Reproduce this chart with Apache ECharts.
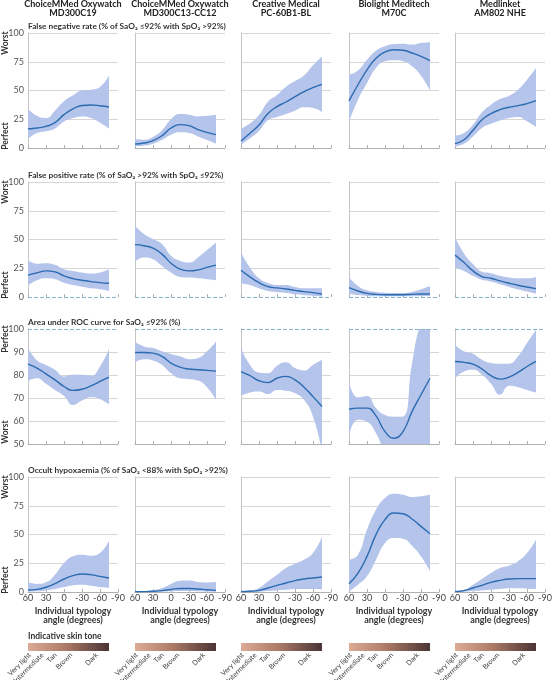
<!DOCTYPE html>
<html>
<head>
<meta charset="utf-8">
<script src="https://cdn.jsdelivr.net/npm/echarts@6/dist/echarts.min.js"></script>
<style>
html,body{margin:0;padding:0;background:#fff}
#chart{width:552px;height:680px}
</style>
</head>
<body>
<div id="chart"></div>
<script>
// x categories (individual typology angle, degrees); curves stop at -75
const angles = [60, 45, 30, 15, 0, -15, -30, -45, -60, -75, -90];

const devices = [
  'ChoiceMMed Oxywatch\nMD300C19',
  'ChoiceMMed Oxywatch\nMD300C13-CC12',
  'Creative Medical\nPC-60B1-BL',
  'Biolight Meditech\nM70C',
  'Medlinket\nAM802 NHE'
];

const metricTitles = [
  'False negative rate (% of SaO₂ ≤92% with SpO₂ >92%)',
  'False positive rate (% of SaO₂ >92% with SpO₂ ≤92%)',
  'Area under ROC curve for SaO₂ ≤92% (%)',
  'Occult hypoxaemia (% of SaO₂ <88% with SpO₂ >92%)'
];

const toneNames = ['Very light', 'Light', 'Intermediate', 'Tan', 'Brown', 'Dark'];
const toneAngles = [57, 49, 36, 14, -12, -55];
const toneRange = [60, -75];

// false negative rate, one list per device
const fnrMid = [
  [16.5, 17.4, 18.8, 22, 29, 34, 37, 37.4, 36.8, 35.7],
  [3.5, 4.3, 6.4, 10.7, 17.4, 20.3, 19.4, 16, 13.6, 11.6],
  [6.1, 12.8, 20, 30, 36, 40, 44.6, 49, 52.5, 55.4],
  [41, 55, 68, 78, 83.5, 85.5, 85, 82.6, 79.7, 76],
  [3.8, 7.2, 15.4, 24.6, 29.9, 33.3, 35.4, 36.8, 38.6, 41.2]
];
const fnrLow = [
  [8, 13, 14.5, 17, 23, 26, 27.5, 26, 22, 17],
  [1.5, 2, 3.8, 7.2, 11.6, 13.6, 13, 10, 7, 3.8],
  [2.6, 8.4, 14.8, 24.3, 27, 29.6, 32.5, 35.4, 34.8, 31.3],
  [23, 42, 56.5, 69.6, 75.4, 76.2, 75.4, 71, 62.9, 50],
  [1.4, 3.8, 10, 17.4, 21, 24, 26, 27, 23.2, 18.3]
];
const fnrHigh = [
  [34, 28, 26, 32.5, 40.6, 45.8, 50, 50.7, 53, 63],
  [7.8, 7.2, 9.6, 15.4, 25, 29.5, 29, 27.5, 28, 29],
  [17, 21.4, 28.7, 40.3, 46, 53.3, 58.3, 63, 72, 79.4],
  [63.8, 67.5, 76.8, 84.6, 88.4, 90.4, 90.7, 89.9, 91.3, 92],
  [10.7, 13, 20.3, 31, 37.7, 42.6, 45.5, 50.7, 59.4, 69.6]
];

// false positive rate
const fprMid = [
  [19, 21, 22.7, 21.9, 18.4, 16, 14.6, 13.4, 12.5, 11.9],
  [45.5, 44.6, 42.6, 37.3, 29.4, 24.2, 22.7, 23.6, 25.7, 27.7],
  [23.3, 17.5, 12.5, 9, 7.9, 7, 5.8, 4.7, 3.8, 2.6],
  [8.2, 5.2, 3.2, 2.3, 2, 2, 2, 2.3, 2.6, 2.6],
  [36.4, 30, 22.7, 17.8, 16.3, 14, 12, 10.2, 8.7, 7.3]
];
const fprLow = [
  [10.2, 14.6, 16.3, 15.5, 12.5, 10.5, 9, 7.6, 6.7, 5.2],
  [31, 34.4, 32.9, 27, 21.3, 17.5, 16.9, 16.3, 15.5, 14.6],
  [11.7, 10.5, 7.6, 5.2, 4.1, 3.5, 2.3, 1.5, 0.9, 0.3],
  [2.9, 1.7, 0.9, 0.6, 0.6, 0.6, 0.6, 0.6, 0.9, 0.9],
  [25.7, 22.7, 18.4, 14.9, 13.4, 11, 8.7, 6.7, 4.7, 2.9]
];
const fprHigh = [
  [32, 29, 29.4, 28, 24.2, 22.7, 21.3, 20.4, 21.3, 24.2],
  [62, 54.8, 50.4, 46, 35.9, 31.5, 30, 34.4, 40.8, 47.5],
  [38.8, 25.7, 16.3, 12.2, 10.5, 10.5, 8.7, 7.6, 7.6, 7.6],
  [17.5, 9.6, 5.8, 4.4, 3.8, 3.5, 3.5, 4.4, 6.7, 9.6],
  [51.9, 37.9, 28.6, 21.9, 20.7, 18.4, 16.9, 16.3, 16.3, 17.5]
];

// area under ROC curve
const aucMid = [
  [84.7, 83, 80.5, 77.9, 75, 73.3, 73.8, 75.3, 77.2, 79.1],
  [89.8, 89.8, 89.5, 88.1, 85.2, 83.4, 82.6, 82.3, 82, 81.7],
  [81.5, 79.7, 77.5, 76.7, 78.6, 79.4, 77.9, 74.7, 70.6, 66.3],
  [65.1, 65.6, 65.6, 62.2, 55.4, 52.5, 55.4, 64.1, 71.4, 78.6],
  [85.9, 85.5, 84.7, 82.6, 79.7, 78.2, 79.1, 81.1, 83.7, 85.9]
];
const aucLow = [
  [77.5, 78.6, 76.2, 73.5, 70.9, 67, 68.9, 70.3, 69.5, 67.3],
  [85.5, 86.9, 86.3, 84.4, 80.8, 78.6, 78.2, 77.6, 74.7, 69.2],
  [70.9, 72.4, 72.8, 71.7, 73.5, 73.1, 72.1, 69.2, 61.9, 47],
  [53.2, 60.5, 59.7, 54.7, 46, 40, 42, 40, 40, 40],
  [78.6, 81.5, 82.3, 80.1, 76.2, 71.4, 75.3, 74.7, 73.5, 72.4]
];
const aucHigh = [
  [91.7, 86.3, 84.4, 82.3, 79.4, 80.1, 80.1, 79.7, 83.7, 91.3],
  [94.3, 92.4, 91.7, 90.3, 89.1, 88.1, 86.9, 87.4, 90.3, 94.6],
  [91.7, 84.4, 81.1, 80.8, 84, 85.5, 83, 82, 84.4, 86.6],
  [77.2, 70.3, 70.9, 65.6, 62.6, 61.9, 62, 85, 103, 110],
  [93.2, 90.3, 89.2, 86.6, 85.2, 84.9, 84.9, 88.1, 93.9, 99.7]
];

// occult hypoxaemia
const ohMid = [
  [1.7, 2.3, 4.1, 7.2, 11.3, 14.2, 15.7, 15.1, 13.6, 12.2],
  [0.2, 0.3, 0.6, 1.2, 2.2, 3.1, 3.1, 2.6, 2, 1.4],
  [0.3, 0.6, 1.4, 3.5, 5.8, 7.8, 9.9, 11.3, 12.2, 13],
  [7.2, 16.5, 31, 49.9, 62.9, 68.7, 68.1, 63.5, 57.1, 50.7],
  [0.3, 1.2, 3.5, 5.8, 8.4, 10.1, 11.3, 11.6, 11.6, 11.6]
];
const ohLow = [
  [0.3, 0.6, 1.4, 2.6, 4.3, 5.8, 6.4, 5.5, 4.3, 3.5],
  [0, 0, 0.1, 0.3, 0.6, 0.9, 0.9, 0.7, 0.5, 0.3],
  [0, 0, 0.3, 0.9, 1.4, 2, 2.6, 2.6, 2.6, 2.3],
  [0.6, 6.4, 13.6, 28.1, 42.6, 47, 46.4, 40.3, 31, 18],
  [0, 0.3, 0.9, 1.4, 2, 2.6, 3.2, 3.2, 2.9, 2.6]
];
const ohHigh = [
  [8.4, 7, 8.4, 15, 25.2, 31, 32.5, 31.6, 33.9, 44.6],
  [0.6, 0.8, 1.5, 3.5, 7, 9.7, 9.9, 8.7, 8.3, 8.7],
  [0.9, 1.4, 3.5, 9.3, 15, 20.9, 24.6, 28.1, 33.9, 47.8],
  [28.1, 32.5, 54.2, 71.6, 81.7, 85.5, 84.6, 82.6, 83.2, 84.6],
  [1.2, 2, 6.4, 11.3, 16.5, 20.9, 22.9, 26.7, 33.9, 45.5]
];

const rows = [
  {mid: fnrMid, low: fnrLow, high: fnrHigh, min: 0, step: 25, perfect: 0, dashed: false},
  {mid: fprMid, low: fprLow, high: fprHigh, min: 0, step: 25, perfect: 0, dashed: true},
  {mid: aucMid, low: aucLow, high: aucHigh, min: 50, step: 10, perfect: 100, dashed: true},
  {mid: ohMid, low: ohLow, high: ohHigh, min: 0, step: 25, perfect: 0, dashed: false}
];

// layout
const colLeft = [28, 135, 241, 349, 455];
const rowTop = [33, 182, 329, 477];
const W = 90, H = 115;
const FONT = 'Lato, "Noto Sans", sans-serif';
const GRID = '#d6d6d6', AXIS = '#b0b0b0', CLEAR = 'rgba(0,0,0,0)';

const grid = [], xAxis = [], yAxis = [], series = [], graphic = [];

rows.forEach(function (row, r) {
  const nLines = (100 - row.min) / row.step + 1;
  const splitColors = [];
  for (let i = 0; i < nLines; i++) splitColors.push(GRID);
  if (row.dashed) splitColors[row.perfect === 0 ? 0 : nLines - 1] = CLEAR;

  devices.forEach(function (dev, c) {
    const gi = grid.length;
    grid.push({left: colLeft[c], top: rowTop[r], width: W, height: H, outerBoundsMode: 'none'});
    xAxis.push({
      gridIndex: gi, type: 'category', data: angles.map(String), boundaryGap: false,
      axisLine: {show: !(row.dashed && row.perfect === 0), onZero: false, lineStyle: {color: AXIS}},
      axisTick: {inside: true, length: 3, interval: 1, lineStyle: {color: AXIS}},
      axisLabel: {show: r === 3, interval: 1, fontSize: 9, color: '#444', margin: 2, fontFamily: FONT},
      splitLine: {show: false}
    });
    yAxis.push({
      gridIndex: gi, type: 'value', min: row.min, max: 100, interval: row.step,
      axisLine: {show: true, onZero: false, lineStyle: {color: '#c4c4c4'}},
      axisTick: {show: false},
      axisLabel: {show: c === 0, fontSize: 9, color: '#555', margin: 4, fontFamily: FONT},
      splitLine: {show: true, lineStyle: {color: splitColors, width: 1}}
    });

    const low = row.low[c], high = row.high[c], mid = row.mid[c];
    const common = {type: 'line', xAxisIndex: gi, yAxisIndex: gi, smooth: true, symbol: 'none', silent: true};
    series.push(Object.assign({}, common, {
      stack: 'band' + gi,
      data: low.slice(),
      lineStyle: {width: 0, opacity: 0}
    }));
    series.push(Object.assign({}, common, {
      stack: 'band' + gi,
      data: high.map((h, k) => h - low[k]),
      lineStyle: {width: 0, opacity: 0},
      areaStyle: {color: '#b4c4ea', opacity: 1}
    }));
    const midSeries = Object.assign({}, common, {
      data: mid.slice(),
      lineStyle: {color: '#2b6bb2', width: 1.4}
    });
    if (row.dashed) {
      midSeries.markLine = {
        silent: true, symbol: 'none', label: {show: false},
        lineStyle: {color: '#86b6c9', type: 'dashed', width: 1},
        data: [{yAxis: row.perfect}]
      };
    }
    series.push(midSeries);
  });

  // row title
  graphic.push({
    type: 'text', x: colLeft[0], y: rowTop[r] - 7,
    style: {text: metricTitles[r], font: 'bold 8.3px ' + FONT, fill: '#333', textVerticalAlign: 'middle'}
  });
  // Worst / Perfect side labels
  const topWord = row.perfect === 100 ? 'Perfect' : 'Worst';
  const botWord = row.perfect === 100 ? 'Worst' : 'Perfect';
  graphic.push({
    type: 'text', x: 5, y: rowTop[r] + 10, rotation: Math.PI / 2,
    style: {text: topWord, font: 'bold 8.5px ' + FONT, fill: '#333', textAlign: 'center', textVerticalAlign: 'middle'}
  });
  graphic.push({
    type: 'text', x: 5, y: rowTop[r] + H - 12, rotation: Math.PI / 2,
    style: {text: botWord, font: 'bold 8.5px ' + FONT, fill: '#333', textAlign: 'center', textVerticalAlign: 'middle'}
  });
});

// skin tone colour bars
const toneGradient = new echarts.graphic.LinearGradient(0, 0, 1, 0, [
  {offset: 0, color: '#dcab96'},
  {offset: 0.45, color: '#ae7c68'},
  {offset: 1, color: '#4a3435'}
]);
devices.forEach(function (dev, c) {
  const gi = grid.length;
  grid.push({left: colLeft[c], top: 643, width: W, height: 8, outerBoundsMode: 'none'});
  xAxis.push({
    gridIndex: gi, type: 'value', min: -90, max: 60, interval: 30, inverse: true,
    axisLine: {show: false}, axisTick: {show: false}, splitLine: {show: false},
    axisLabel: {
      customValues: toneAngles, rotate: 45, fontSize: 7, color: '#444', margin: 3, fontFamily: FONT,
      hideOverlap: false, showMinLabel: true, showMaxLabel: true,
      formatter: v => toneNames[toneAngles.indexOf(v)]
    }
  });
  yAxis.push({gridIndex: gi, type: 'value', min: 0, max: 1, show: false});
  series.push({
    type: 'custom', xAxisIndex: gi, yAxisIndex: gi, silent: true,
    data: [toneRange],
    renderItem: function (params, api) {
      const p0 = api.coord([api.value(0), 0]);
      const p1 = api.coord([api.value(1), 1]);
      return {
        type: 'rect',
        shape: {x: p0[0], y: p1[1], width: p1[0] - p0[0], height: p0[1] - p1[1]},
        style: {fill: toneGradient}
      };
    }
  });

  // column title and x axis name
  graphic.push({
    type: 'text', x: colLeft[c] + W / 2, y: 0,
    style: {text: dev, font: 'bold 9px ' + FONT, fill: '#222', textAlign: 'center', textVerticalAlign: 'top', lineHeight: 9}
  });
  graphic.push({
    type: 'text', x: colLeft[c] + W / 2, y: 607,
    style: {text: 'Individual typology\nangle (degrees)', font: 'bold 9px ' + FONT, fill: '#333', textAlign: 'center', textVerticalAlign: 'top', lineHeight: 9}
  });
});

graphic.push({
  type: 'text', x: colLeft[0], y: 636,
  style: {text: 'Indicative skin tone', font: 'bold 8.5px ' + FONT, fill: '#333', textVerticalAlign: 'middle'}
});

const myChart = echarts.init(document.getElementById('chart'), null, {renderer: 'canvas'});
myChart.setOption({
  animation: false,
  textStyle: {fontFamily: FONT},
  grid: grid,
  xAxis: xAxis,
  yAxis: yAxis,
  series: series,
  graphic: graphic
});
</script>
</body>
</html>
